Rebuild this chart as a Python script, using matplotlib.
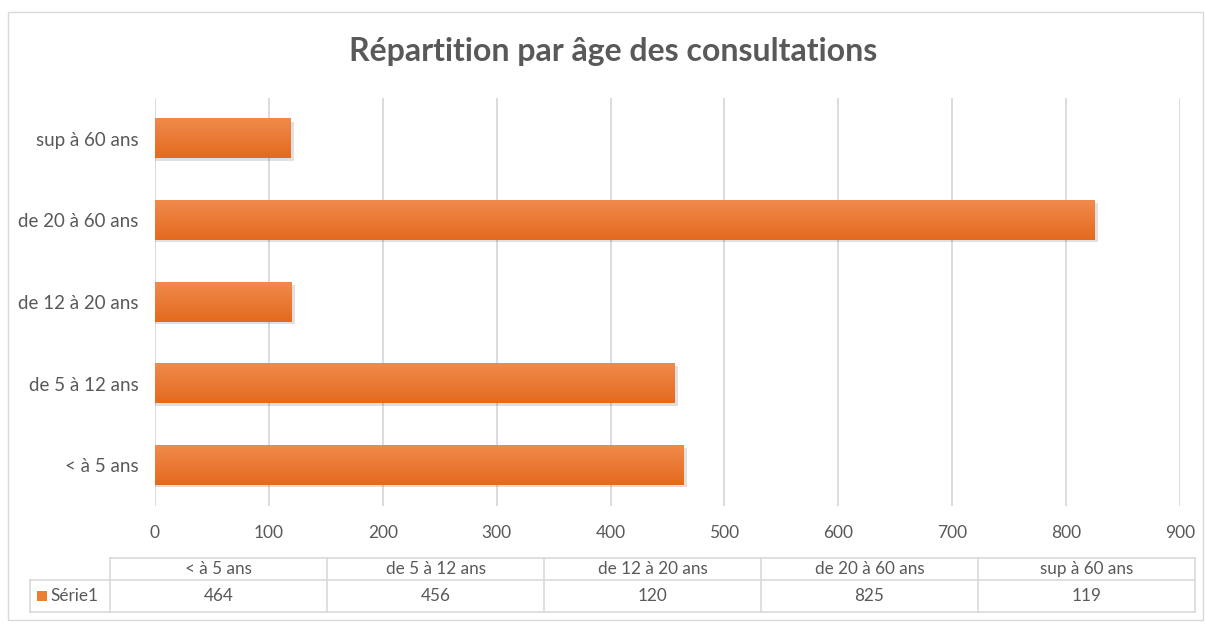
import numpy as np
import matplotlib.pyplot as plt
from matplotlib.colors import LinearSegmentedColormap
from matplotlib.patches import Rectangle

categories = ["< à 5 ans", "de 5 à 12 ans", "de 12 à 20 ans", "de 20 à 60 ans", "sup à 60 ans"]
values = [464, 456, 120, 825, 119]
series_name = "Série1"
xticks = [0, 100, 200, 300, 400, 500, 600, 700, 800, 900]

plt.rcParams['font.family'] = ['Lato', 'DejaVu Sans']
gray_txt = "#595959"
grid_col = "#d9d9d9"
orange = "#ED7D31"

W, H = 1205, 628
fig = plt.figure(figsize=(W / 100, H / 100), dpi=100)

# outer border of the chart area
fig.patches.append(Rectangle((8 / W, 1 - 620 / H), 1195 / W, 608 / H, transform=fig.transFigure,
                             fill=False, edgecolor=grid_col, lw=1))

fig.text(613 / W, 1 - 51 / H, "Répartition par âge des consultations", ha="center", va="center",
         fontsize=23, fontweight="bold", color=gray_txt)

# main bar axes
ax = fig.add_axes([155 / W, 1 - 506 / H, 1025 / W, 408 / H])
cmap = LinearSegmentedColormap.from_list("og", ["#E46A1E", "#F08A4B"])
grad = np.linspace(0, 1, 64).reshape(-1, 1)
h = 0.48
ypos = np.arange(len(categories))
for y, v in zip(ypos, values):
    # soft shadow
    ax.add_patch(Rectangle((0, y - h / 2 - 0.03), v + 3, h, facecolor="#000000", alpha=0.12,
                           edgecolor="none", zorder=2))
    ax.imshow(grad, extent=[0, v, y - h / 2, y + h / 2], cmap=cmap, aspect="auto",
              origin="lower", zorder=3)

ax.set_xlim(0, 900)
ax.set_ylim(-0.5, len(categories) - 0.5)
ax.set_aspect("auto")
ax.set_xticks(xticks)
ax.set_yticks(ypos)
ax.set_yticklabels(categories)
ax.grid(axis="x", color=grid_col, lw=1.3, zorder=0)
ax.set_axisbelow(True)
for s in ax.spines.values():
    s.set_visible(False)
ax.tick_params(length=0, colors=gray_txt)
ax.tick_params(axis="x", pad=14, labelsize=12.5)
ax.tick_params(axis="y", pad=12, labelsize=13.5)

# data table below the chart
tab = fig.add_axes([0, 0, 1, 1], facecolor="none")
tab.set_xlim(0, W)
tab.set_ylim(H, 0)
tab.axis("off")
x0, x1 = 110, 1195
col_w = (x1 - x0) / len(categories)
y_top, y_mid, y_bot = 558, 580, 612
lab_left = 30
lc = dict(color=grid_col, lw=1.2)
tab.plot([x0, x1], [y_top, y_top], **lc)
tab.plot([lab_left, x1], [y_mid, y_mid], **lc)
tab.plot([lab_left, x1], [y_bot, y_bot], **lc)
tab.plot([lab_left, lab_left], [y_mid, y_bot], **lc)
for i in range(len(categories) + 1):
    xx = x0 + i * col_w
    tab.plot([xx, xx], [y_top, y_bot], **lc)
for i, (c, v) in enumerate(zip(categories, values)):
    cx = x0 + (i + 0.5) * col_w
    tab.text(cx, (y_top + y_mid) / 2, c, ha="center", va="center", fontsize=12.3, color=gray_txt)
    tab.text(cx, (y_mid + y_bot) / 2, str(v), ha="center", va="center", fontsize=12.3, color=gray_txt)
tab.add_patch(Rectangle((37, 591), 10, 10, facecolor=orange, edgecolor="none"))
tab.text(50, (y_mid + y_bot) / 2, series_name, ha="left", va="center", fontsize=12.3, color=gray_txt)

fig.savefig("out.png", dpi=100)
